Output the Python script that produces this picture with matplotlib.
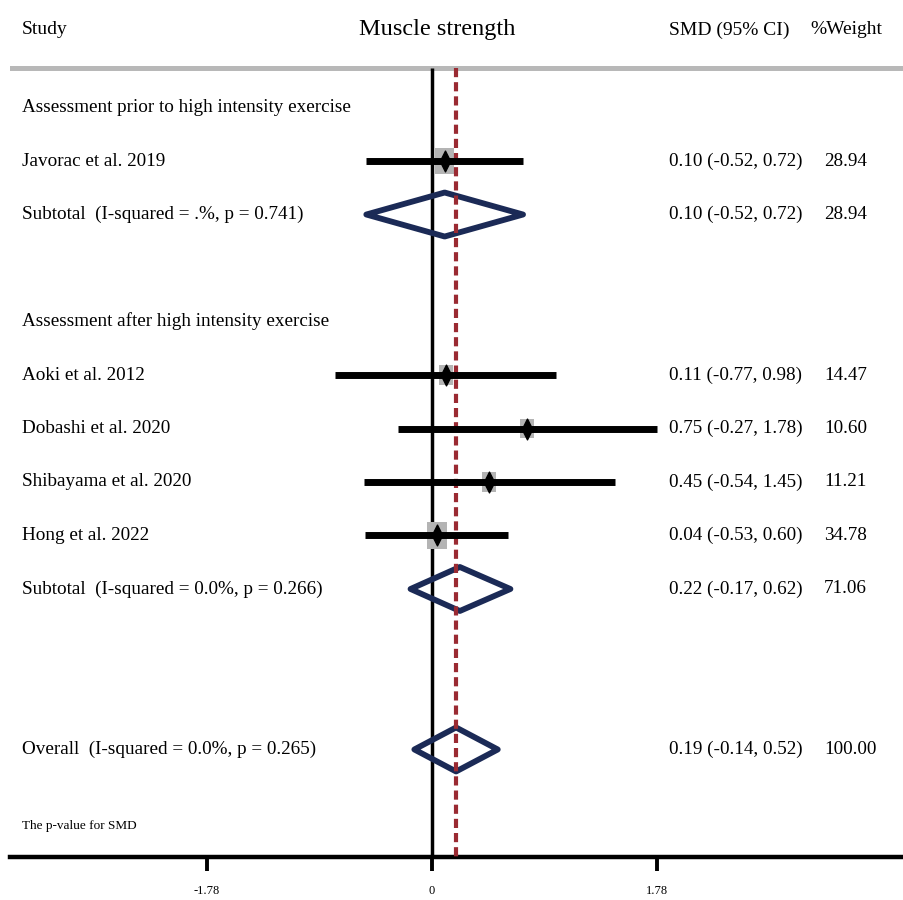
"""Forest plot: muscle strength SMD by assessment timing"""

import numpy as np
import matplotlib.pyplot as plt
from matplotlib.patches import Rectangle, Polygon
from matplotlib.path import Path

plt.rcParams['font.family'] = ['Liberation Serif', 'DejaVu Serif']

# individual studies
studies = ['Javorac et al. 2019', 'Aoki et al. 2012', 'Dobashi et al. 2020',
           'Shibayama et al. 2020', 'Hong et al. 2022']
smd = [0.10, 0.11, 0.75, 0.45, 0.04]
ci_lo = [-0.52, -0.77, -0.27, -0.54, -0.53]
ci_hi = [0.72, 0.98, 1.78, 1.45, 0.60]
weight = [28.94, 14.47, 10.60, 11.21, 34.78]
study_rows = [2, 6, 7, 8, 9]

# subgroup and overall pooled estimates
pooled_labels = ['Subtotal  (I-squared = .%, p = 0.741)',
                 'Subtotal  (I-squared = 0.0%, p = 0.266)',
                 'Overall  (I-squared = 0.0%, p = 0.265)']
pooled_smd = [0.10, 0.22, 0.19]
pooled_lo = [-0.52, -0.17, -0.14]
pooled_hi = [0.72, 0.62, 0.52]
pooled_weight = [28.94, 71.06, 100.00]
pooled_rows = [3, 10, 13]

group_labels = ['Assessment prior to high intensity exercise',
                'Assessment after high intensity exercise']
group_rows = [1, 5]

overall_smd = 0.19
xticks = [-1.78, 0, 1.78]
xticklabels = ['-1.78', '0', '1.78']

navy = '#1b2a56'
dark_red = '#9a2a32'

# layout (x in SMD units, y in rows)
PX_X = 126.4        # pixels per SMD unit
PX_Y = 53.5         # pixels per row
X_LABEL = -3.244
X_CI = 1.875
X_W = 3.10
Y_HEAD = -0.45
Y_RULE = 0.26
FS = 13.8

fig = plt.figure(figsize=(9.04, 9.0), dpi=100)
ax = fig.add_axes([10 / 904, 43 / 900, 894 / 904, 857 / 900])
ax.set_xlim(-3.339, 3.734)
ax.set_ylim(15.01, -1.01)

for s in ['top', 'right', 'left']:
    ax.spines[s].set_visible(False)
ax.spines['bottom'].set_linewidth(3.2)
ax.set_yticks([])
ax.set_xticks(xticks)
ax.set_xticklabels(xticklabels, fontsize=9)
ax.tick_params(axis='x', direction='out', length=10, width=2.8, pad=10)

# header
ax.text(X_LABEL, Y_HEAD, 'Study', fontsize=14, va='center')
ax.text(0.04, Y_HEAD, 'Muscle strength', fontsize=17.5, va='center', ha='center')
ax.text(X_CI, Y_HEAD, 'SMD (95% CI)', fontsize=14, va='center')
ax.text(2.99, Y_HEAD, '%Weight', fontsize=14, va='center')
ax.axhline(Y_RULE, color='#b8b8b8', lw=3.6, zorder=1)

# reference lines
ax.vlines(0, Y_RULE, 15.01, color='black', lw=2.5, zorder=1)
ax.vlines(overall_smd, Y_RULE, 15.01, color=dark_red, lw=3,
          linestyles=(0, (2.2, 1.2)), zorder=3)

# group headings
for lab, r in zip(group_labels, group_rows):
    ax.text(X_LABEL, r, lab, fontsize=FS, va='center')

# studies: weight box, CI line, point estimate
tall_diamond = Path([(0, 1), (0.5, 0), (0, -1), (-0.5, 0), (0, 1)],
                    [Path.MOVETO, Path.LINETO, Path.LINETO, Path.LINETO, Path.CLOSEPOLY])
for name, m, lo, hi, w, r in zip(studies, smd, ci_lo, ci_hi, weight, study_rows):
    h_px = 8 + 3.3 * np.sqrt(w)
    bw = 0.72 * h_px / PX_X
    bh = h_px / PX_Y
    ax.add_patch(Rectangle((m - bw / 2, r - bh / 2), bw, bh,
                           facecolor='#b4b4b4', edgecolor='none', zorder=2))
    ax.hlines(r, lo, hi, color='black', lw=5, capstyle='butt', zorder=4)
    ax.plot(m, r, marker=tall_diamond, ms=15, color='black', zorder=5)
    ax.text(X_LABEL, r, name, fontsize=FS, va='center')
    ax.text(X_CI, r, f'{m:.2f} ({lo:.2f}, {hi:.2f})', fontsize=FS, va='center')
    ax.text(X_W, r, f'{w:.2f}', fontsize=FS, va='center')

# pooled diamonds
half_h = 22 / PX_Y
for lab, m, lo, hi, w, r in zip(pooled_labels, pooled_smd, pooled_lo,
                                pooled_hi, pooled_weight, pooled_rows):
    ax.add_patch(Polygon([(lo, r), (m, r - half_h), (hi, r), (m, r + half_h)],
                         closed=True, fill=False, edgecolor=navy, lw=4.2,
                         joinstyle='round', zorder=2.5))
    ax.text(X_LABEL, r, lab, fontsize=FS, va='center')
    ax.text(X_CI, r, f'{m:.2f} ({lo:.2f}, {hi:.2f})', fontsize=FS, va='center')
    ax.text(X_W, r, f'{w:.2f}', fontsize=FS, va='center')

ax.text(X_LABEL, 14.43, 'The p-value for SMD', fontsize=9.5, va='center')

plt.savefig('out.png', dpi=100)
